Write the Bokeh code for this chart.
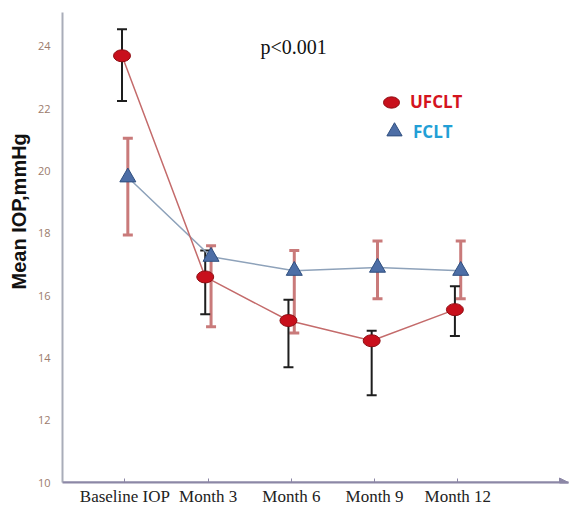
import pandas as pd
from bokeh.plotting import figure
from bokeh.models import (ColumnDataSource, Whisker, TeeHead, FixedTicker, Legend,
                          LegendItem, Label, Arrow, NormalHead, Range1d, Title)
from bokeh.embed import file_html
from bokeh.resources import INLINE

# ---- data ----
categories = ["Baseline IOP", "Month 3", "Month 6", "Month 9", "Month 12"]
ufclt_mean = [23.7, 16.6, 15.2, 14.55, 15.55]
ufclt_upper = [24.55, 17.45, 15.87, 14.87, 16.3]
ufclt_lower = [22.25, 15.4, 13.7, 12.8, 14.7]
fclt_mean = [19.8, 17.25, 16.8, 16.9, 16.8]
fclt_upper = [21.05, 17.6, 17.45, 17.75, 17.75]
fclt_lower = [17.95, 15.0, 14.8, 15.9, 15.9]
y_ticks = [10, 12, 14, 16, 18, 20, 22, 24]

# ---- styles ----
U_OFF, F_OFF = -0.035, 0.035
idx = list(range(len(categories)))
df = pd.DataFrame({
    "cat": categories, "x": idx,
    "u_mean": ufclt_mean, "u_up": ufclt_upper, "u_lo": ufclt_lower,
    "f_mean": fclt_mean, "f_up": fclt_upper, "f_lo": fclt_lower,
})
df["xu"] = df["x"] + U_OFF
df["xf"] = df["x"] + F_OFF
src = ColumnDataSource(df)

x_start, x_end = -0.75, 5.33
y_start, y_end = 10, 25.09

p = figure(width=572, height=508, x_range=Range1d(x_start, x_end),
           y_range=Range1d(y_start, y_end), output_backend="svg",
           toolbar_location=None, min_border_left=57, min_border_right=4,
           min_border_top=12, min_border_bottom=25)
p.outline_line_color = None
p.xgrid.grid_line_color = None
p.ygrid.grid_line_color = None
p.background_fill_color = "white"
p.border_fill_color = "white"

# y axis
p.yaxis.ticker = FixedTicker(ticks=y_ticks)
p.yaxis.axis_line_color = "#a9adb9"
p.yaxis.axis_line_width = 2
p.yaxis.major_tick_line_color = None
p.yaxis.minor_tick_line_color = None
p.yaxis.major_label_text_font = "Open Sans"
p.yaxis.major_label_text_font_size = "11px"
p.yaxis.major_label_text_color = "#9b7b6c"
p.yaxis.major_label_standoff = 6

# x axis
p.xaxis.ticker = FixedTicker(ticks=idx)
p.xaxis.major_label_overrides = {i: c for i, c in zip(idx, categories)}
p.xaxis.axis_line_color = "#8c87a6"
p.xaxis.axis_line_width = 2
p.xaxis.major_tick_line_color = "#8c87a6"
p.xaxis.major_tick_in = 4
p.xaxis.major_tick_out = 0
p.xaxis.minor_tick_line_color = None
p.xaxis.major_label_text_font = "Liberation Serif"
p.xaxis.major_label_text_font_size = "17px"
p.xaxis.major_label_text_color = "#222222"
p.xaxis.major_label_standoff = 4

# y axis title (vertical, placed higher like the reference)
p.add_layout(Title(text="Mean IOP,mmHg", align="left", offset=193,
                   text_font="Liberation Sans", text_font_style="bold",
                   text_font_size="20px", text_color="#111111"), "left")

# arrow head on x axis
p.add_layout(Arrow(x_start=x_start, x_end=x_end, y_start=y_start, y_end=y_start,
                   line_color="#8c87a6", line_width=2,
                   end=NormalHead(size=9, fill_color="#8c87a6", line_color="#8c87a6")))

# error bars
wu = Whisker(base="xu", upper="u_up", lower="u_lo", source=src,
             line_color="#1e1e1e", line_width=2, level="underlay",
             upper_head=TeeHead(size=10, line_color="#1e1e1e", line_width=2),
             lower_head=TeeHead(size=10, line_color="#1e1e1e", line_width=2))
wf = Whisker(base="xf", upper="f_up", lower="f_lo", source=src,
             line_color="#c97a7a", line_width=3, level="underlay",
             upper_head=TeeHead(size=10, line_color="#c97a7a", line_width=3),
             lower_head=TeeHead(size=10, line_color="#c97a7a", line_width=3))
p.add_layout(wf)
p.add_layout(wu)

# lines
p.line(x="xf", y="f_mean", source=src, line_color="#8ea2ba", line_width=1.5)
p.line(x="xu", y="u_mean", source=src, line_color="#c46b6b", line_width=1.5)

# markers
r_u = p.ellipse(x="xu", y="u_mean", width=17, height=12, width_units="screen",
                height_units="screen", fill_color="#c8101c", line_color="#8e0c12",
                source=src)
r_f = p.scatter(x="xf", y="f_mean", marker="triangle", size=16,
                fill_color="#4d6ea6", line_color="#2f4f7f", source=src)

# legends (separate so labels can have own colours)
leg_u = Legend(items=[LegendItem(label="UFCLT", renderers=[r_u])],
               location=(319, 369), glyph_width=20, glyph_height=20,
               label_standoff=9, padding=0, margin=0, spacing=0,
               border_line_color=None, background_fill_alpha=0,
               label_text_font="Open Sans", label_text_font_style="bold",
               label_text_font_size="17px", label_text_color="#d4141e")
leg_f = Legend(items=[LegendItem(label="FCLT", renderers=[r_f])],
               location=(313, 332), glyph_width=38, glyph_height=38,
               label_standoff=-2, padding=0, margin=0, spacing=0,
               border_line_color=None, background_fill_alpha=0,
               label_text_font="Open Sans", label_text_font_style="bold",
               label_text_font_size="17px", label_text_color="#229fd6")
p.add_layout(leg_u)
p.add_layout(leg_f)

# p-value text
p.add_layout(Label(x=198, y=436, x_units="screen", y_units="screen",
                   text="p<0.001", text_align="left", text_baseline="middle",
                   text_font="Liberation Serif", text_font_size="20px",
                   text_color="#111111"))

open("out.html", "w").write(file_html(p, INLINE))
